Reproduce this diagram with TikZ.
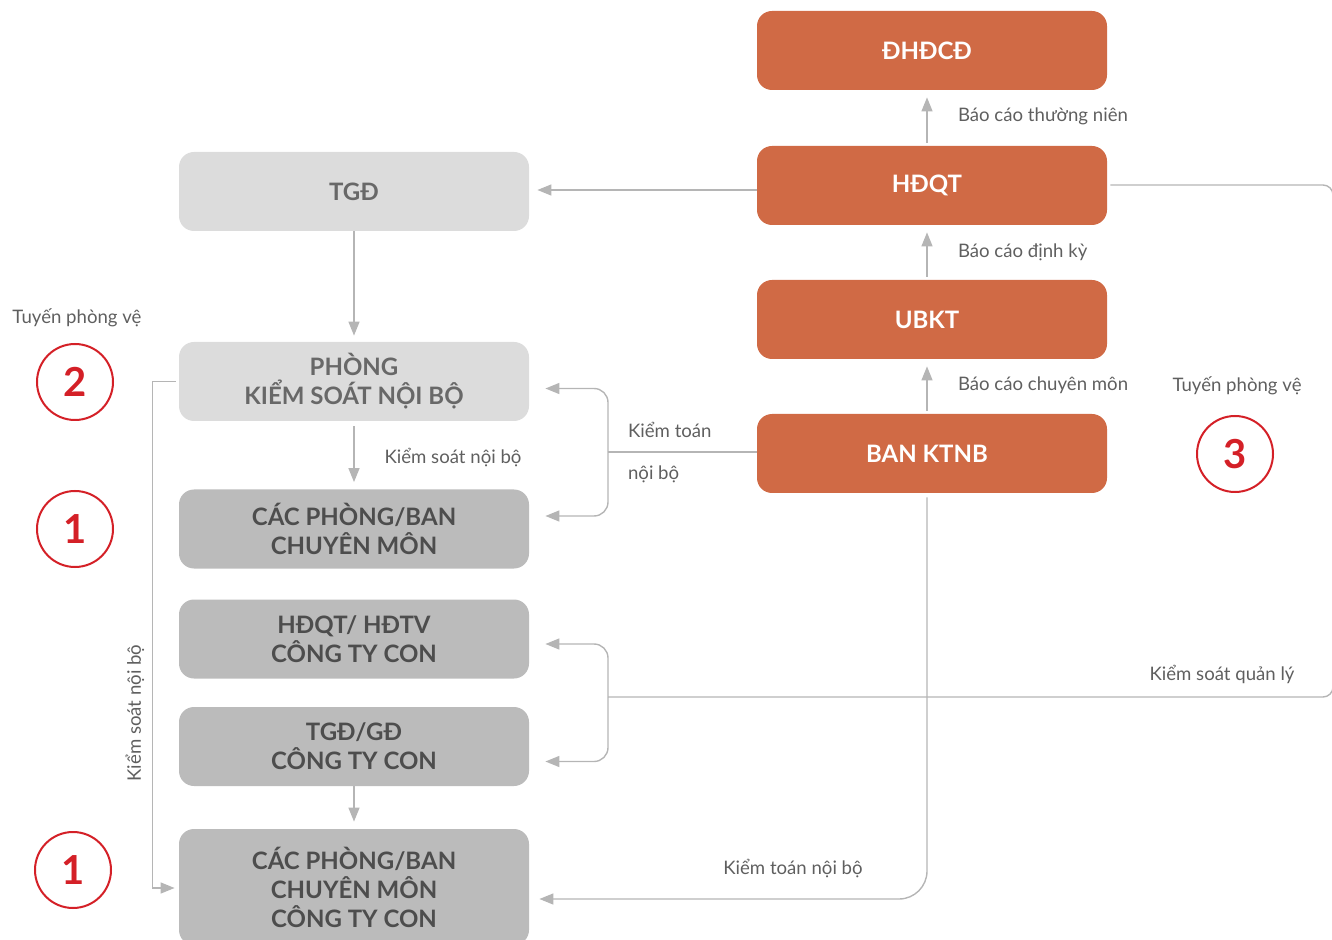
\documentclass[tikz,border=0pt]{standalone}
\usepackage{fontspec}
\setmainfont{Lato}
\usetikzlibrary{arrows.meta,positioning}
\definecolor{ktorange}{HTML}{D06A45}
\definecolor{ktlight}{HTML}{DCDCDC}
\definecolor{ktmid}{HTML}{BBBBBB}
\definecolor{ktline}{HTML}{B5B5B5}
\definecolor{kttext}{HTML}{4D4D4D}
\definecolor{ktred}{HTML}{D42027}
\newcommand{\ktpad}{\hspace*{5pt}}

\begin{document}
\begin{tikzpicture}
      [x = 0.5pt, y = -0.5pt,
      box/.style= {
         rectangle,
         rounded corners = 7.5pt,
         minimum width = 175pt,
         minimum height = 39.5pt,
         align = center,
         font = \fontsize{12}{14.5}\selectfont\bfseries
      },
      light/.style= {box, fill = ktlight, text = kttext!85},
      mid/.style= {box, fill = ktmid, text = kttext},
      orange/.style= {box, fill = ktorange, text = white},
      link/.style= {draw = ktline, line width = 0.7pt},
      arrow/.style= {link, -{Triangle[length = 7pt, width = 5.5pt]}, shorten > = 3.5pt},
      label/.style= {text = kttext!90, font = \fontsize{9.3}{11}\selectfont},
      ring/.style= {
         draw = ktred,
         circle,
         line width = 1pt,
         minimum size = 38pt,
         text = ktred,
         font = \fontsize{20}{20}\selectfont\bfseries
      }]

      \useasboundingbox (0, 0) rectangle (1332, 940);

      % left column
      \node[light] (tgd) at (354, 191.5) {TGĐ};
      \node[light] (ksnb) at (354, 381.5) {PHÒNG\\KIỂM SOÁT NỘI BỘ};
      \node[mid] (cpb) at (354, 529) {CÁC PHÒNG/BAN\\CHUYÊN MÔN};
      \node[mid] (hdtv) at (354, 639) {HĐQT/ HĐTV\\CÔNG TY CON};
      \node[mid] (tgdcon) at (354, 746.5) {TGĐ/GĐ\\CÔNG TY CON};
      \node[mid, minimum height = 58pt] (cpbcon) at (354, 887) {CÁC PHÒNG/BAN\\CHUYÊN MÔN\\CÔNG TY CON};

      % right column
      \node[orange] (dhdcd) at (932, 50.5) {ĐHĐCĐ\ktpad};
      \node[orange] (hdqt) at (932, 185.5) {HĐQT\ktpad};
      \node[orange] (ubkt) at (932, 319.5) {UBKT\ktpad};
      \node[orange] (ktnb) at (932, 453.5) {BAN KTNB\ktpad};

      % lines of defence
      \node[label] (tuyen2) at (77, 318) {Tuyến phòng vệ};
      \node[ring] (r2) at (75, 382) {2};
      \node[ring] (r1a) at (75, 529) {1};
      \node[ring] (r1b) at (73, 870) {1};
      \node[label] (tuyen3) at (1237, 386) {Tuyến phòng vệ};
      \node[ring] (r3) at (1235, 454) {3};

      % reports
      \draw[arrow, shorten < = 1.5pt] (ubkt.north -| 927, 0) -- (hdqt.south -| 927, 0);
      \draw[arrow, shorten < = 1.5pt] (hdqt.north -| 927, 0) -- (dhdcd.south -| 927, 0);
      \draw[arrow, shorten < = 1.5pt] (ktnb.north -| 927, 0) -- (ubkt.south -| 927, 0);
      \node[label, anchor = west] (bctn) at (951, 116) {Báo cáo thường niên};
      \node[label, anchor = west] (bcdk) at (951, 252) {Báo cáo định kỳ};
      \node[label, anchor = west] (bccm) at (951, 385) {Báo cáo chuyên môn};

      % hdqt to tgd
      \draw[arrow, shorten > = 4pt] (hdqt.west |- 0, 190) -- (tgd.east |- 0, 190);
      \draw[arrow, shorten > = 3pt] (tgd) -- (ksnb);
      \draw[arrow, shorten < = 2.5pt] (ksnb) -- (cpb);
      \node[label] (ksnb-lbl) at (453, 458) {Kiểm soát nội bộ};
      \draw[arrow] (tgdcon) -- (cpbcon);

      % internal audit
      \coordinate (fork1) at (608, 452);
      \draw[link] (ktnb.west |- fork1) -- (fork1);
      \draw[arrow, shorten > = 8pt, rounded corners = 7pt] (fork1) |- ([yshift = -3.5pt]ksnb.east);
      \draw[arrow, shorten > = 8pt, rounded corners = 7pt] (fork1) |- ([yshift = 6.5pt]cpb.east);
      \node[label, anchor = west] (kt-lbl1) at (621, 430) {Kiểm toán};
      \node[label, anchor = west] (kt-lbl2) at (621, 474) {nội bộ};

      % management control
      \coordinate (fork2) at (608, 697);
      \draw[link, rounded corners = 5pt] (hdqt.east |- 0, 185) ++(3, 0) -- (1333, 185) -- (1333, 697) -- (fork2);
      \draw[arrow, shorten > = 8pt, rounded corners = 7pt] (fork2) |- ([yshift = -2.5pt]hdtv.east);
      \draw[arrow, shorten > = 8pt, rounded corners = 7pt] (fork2) |- ([yshift = -7.5pt]tgdcon.east);
      \node[label] (ksql-lbl) at (1222, 674) {Kiểm soát quản lý};

      % audit of subsidiaries
      \draw[arrow, shorten > = 5pt, shorten < = 2pt, rounded corners = 14pt] (ktnb.south -| 927, 0) |- ([yshift = -6pt]cpbcon.east);
      \node[label] (ktcon-lbl) at (793, 869) {Kiểm toán nội bộ};

      % left control line
      \draw[arrow, shorten < = 1.5pt, shorten > = 2pt] (ksnb.west) -- ++(-26, 0) |- ([yshift = -0.5pt]cpbcon.west);
      \node[label, rotate = 90] (ksleft-lbl) at (135, 713) {Kiểm soát nội bộ};

   \end{tikzpicture}
\end{document}
